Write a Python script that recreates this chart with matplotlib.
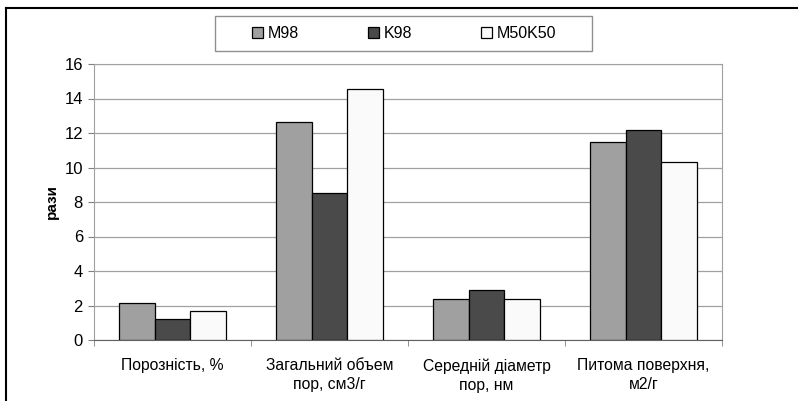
import numpy as np
import matplotlib
matplotlib.use("Agg")
import matplotlib.pyplot as plt
from matplotlib.lines import Line2D
from matplotlib.patches import Rectangle

plt.rcParams['font.family'] = ['Liberation Sans', 'DejaVu Sans']

# Data
categories = ["Порозність, %", "Загальний объем\nпор, см3/г",
              "Середній діаметр\nпор, нм", "Питома поверхня,\nм2/г"]
series_names = ["M98", "K98", "M50K50"]
m98 = [2.15, 12.65, 2.4, 11.45]
k98 = [1.2, 8.5, 2.9, 12.2]
m50k50 = [1.7, 14.55, 2.4, 10.3]
colors = ["#a0a0a0", "#4a4a4a", "#fafafa"]

fig = plt.figure(figsize=(7.98, 4.01), dpi=100)
W, H = 798, 401
ax = fig.add_axes([94 / W, 1 - 340 / H, (722 - 94) / W, (340 - 64) / H])

x = np.arange(len(categories))
bw = 0.227
for i, (vals, name) in enumerate(zip([m98, k98, m50k50], series_names)):
    ax.bar(x + (i - 1) * bw, vals, bw, color=colors[i], edgecolor="black",
           linewidth=0.9, label=name, zorder=3)

ax.set_xlim(-0.5, len(categories) - 0.5)
ax.set_ylim(0, 16)
ax.set_yticks(np.arange(0, 17, 2))
ax.yaxis.grid(True, color="#a0a0a0", linewidth=0.9, zorder=0)
ax.set_xticks(x)
ax.set_xticklabels(categories, fontsize=11.3, linespacing=1.35)
ax.set_xticks(np.arange(-0.5, len(categories)), minor=True)
ax.tick_params(axis="x", which="major", length=0, pad=13)
ax.tick_params(axis="x", which="minor", length=4, direction="out", color="#808080")
ax.tick_params(axis="y", length=4, direction="out", color="#808080", labelsize=12, pad=4)
for s in ["top", "right", "left"]:
    ax.spines[s].set_color("#a0a0a0")
ax.spines["bottom"].set_color("#606060")
ax.set_ylabel("рази", fontsize=11, fontweight="bold", labelpad=4)

# legend frame drawn separately, items centered inside
fig.add_artist(Rectangle((215 / W, 1 - 51 / H), (592 - 215) / W, 35 / H,
                         transform=fig.transFigure, fill=False,
                         edgecolor="#909090", lw=1.0))
fig.legend(loc="center", bbox_to_anchor=(404 / W, 1 - 33.5 / H),
           ncol=3, fontsize=11.5, frameon=False, handlelength=0.7,
           handleheight=0.7, handletextpad=0.3, columnspacing=4.3)

# outer chart frame (left and top edges visible)
fig.add_artist(Line2D([6 / W, 6 / W], [0, 1 - 8 / H], color="black", lw=1.5))
fig.add_artist(Line2D([6 / W, 1], [1 - 8 / H, 1 - 8 / H], color="black", lw=1.5))

fig.savefig("out.png", dpi=100)
